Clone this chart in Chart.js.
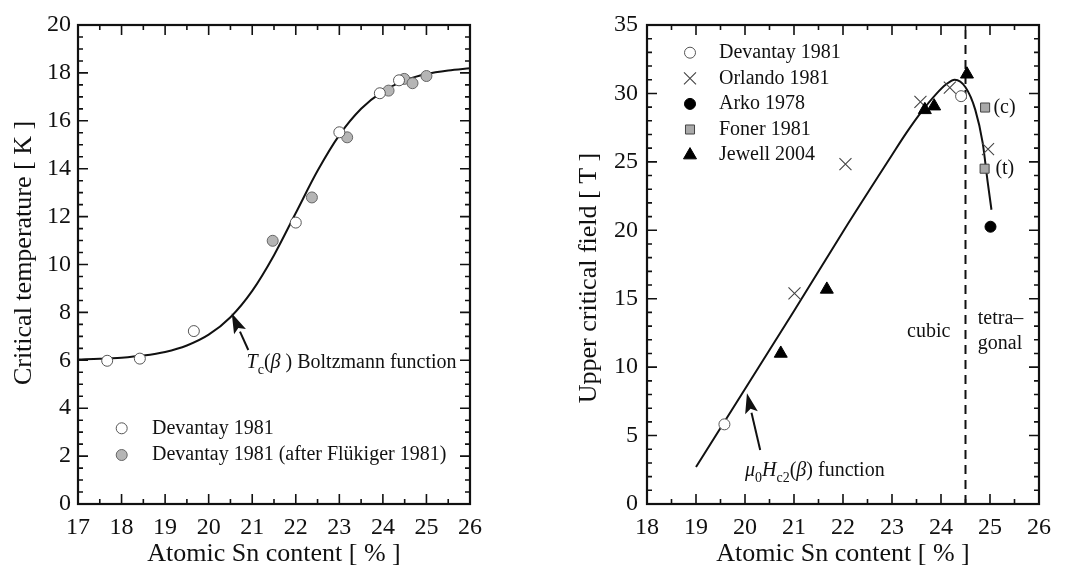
<!DOCTYPE html>
<html>
<head>
<meta charset="utf-8">
<script src="https://cdn.jsdelivr.net/npm/chart.js@4.4.1/dist/chart.umd.min.js"></script>
<style>
  body { margin: 0; background: #fff; }
  #wrap { position: relative; width: 1069px; height: 567px; }
  canvas { position: absolute; top: 0; }
  #tcChart { left: 0; }
  #hcChart { left: 535px; }
</style>
</head>
<body>
<div id="wrap">
  <canvas id="tcChart" width="535" height="567"></canvas>
  <canvas id="hcChart" width="534" height="567"></canvas>
</div>
<script>
// critical temperature vs Sn content
const tcOpenX = [17.67, 18.42, 19.66, 22.0, 23.0, 23.93, 24.37];
const tcOpenY = [5.98, 6.07, 7.22, 11.75, 15.52, 17.15, 17.69];
const tcGrayX = [21.47, 22.37, 23.18, 24.13, 24.49, 24.68, 25.0];
const tcGrayY = [10.99, 12.8, 15.31, 17.26, 17.75, 17.57, 17.87];
const tcFitX = [17, 17.5, 18, 18.5, 19, 19.5, 20, 20.5, 21, 21.5, 22, 22.5, 23, 23.5, 24, 24.5, 25, 25.5, 26];
const tcFitY = [6.03, 6.06, 6.11, 6.2, 6.35, 6.62, 7.07, 7.8, 8.9, 10.39, 12.15, 13.91, 15.4, 16.5, 17.23, 17.68, 17.95, 18.1, 18.19];

// upper critical field vs Sn content
const hcDevX = [19.58, 24.41];
const hcDevY = [5.82, 29.8];
const hcOrlX = [21.01, 22.05, 23.58, 24.18, 24.96];
const hcOrlY = [15.39, 24.84, 29.39, 30.43, 25.93];
const hcArkoX = [25.01];
const hcArkoY = [20.26];
const hcFonerX = [24.9, 24.89];
const hcFonerY = [28.97, 24.5];
const hcJewX = [20.73, 21.67, 23.67, 23.86, 24.53];
const hcJewY = [11.0, 15.68, 28.8, 29.07, 31.4];
const hcFitX = [19, 20, 21, 22, 23, 23.3, 23.6, 23.9, 24.1, 24.28, 24.5, 24.7, 24.85, 24.95, 25.03];
const hcFitY = [2.7, 8.4, 14.1, 19.9, 25.5, 27.15, 28.65, 29.95, 30.65, 31.0, 30.45, 28.8, 26.4, 23.6, 21.5];
const phaseX = [24.5, 24.5];
const phaseY = [0, 35];

const serif = '"Liberation Serif", "Times New Roman", serif';
const ink = '#111';

const pts = (xs, ys) => xs.map((x, i) => ({ x: x, y: ys[i] }));

function axis(min, max, step, title, pad, fit) {
  return {
    type: 'linear', min: min, max: max,
    grid: { display: false, drawTicks: false },
    border: { display: false },
    ticks: { stepSize: step, autoSkip: false, maxRotation: 0, color: ink, padding: pad,
             font: { family: serif, size: 24 } },
    title: { display: !!title, text: title, color: ink, padding: 0,
             font: { family: serif, size: 26, lineHeight: 1 } },
    afterFit: fit
  };
}

// box frame with inward major/minor ticks on all four sides
function frameTicks(xMinor, yMinor) {
  return {
    id: 'frameTicks',
    afterDatasetsDraw(chart) {
      const { ctx, chartArea: a, scales } = chart;
      ctx.save();
      ctx.strokeStyle = ink;
      ctx.lineWidth = 1.6;
      const sets = [[scales.x, xMinor], [scales.y, yMinor]];
      sets.forEach(([s, minor]) => {
        const major = s.options.ticks.stepSize;
        const n = Math.round((s.max - s.min) / minor);
        for (let i = 0; i <= n; i++) {
          const v = s.min + i * minor;
          const isMajor = Math.abs(v / major - Math.round(v / major)) < 1e-6;
          const len = isMajor ? 10 : 5;
          const p = s.getPixelForValue(v);
          ctx.beginPath();
          if (s.isHorizontal()) {
            ctx.moveTo(p, a.bottom); ctx.lineTo(p, a.bottom - len);
            ctx.moveTo(p, a.top); ctx.lineTo(p, a.top + len);
          } else {
            ctx.moveTo(a.left, p); ctx.lineTo(a.left + len, p);
            ctx.moveTo(a.right, p); ctx.lineTo(a.right - len, p);
          }
          ctx.stroke();
        }
      });
      ctx.lineWidth = 2.2;
      ctx.strokeRect(a.left, a.top, a.right - a.left, a.bottom - a.top);
      ctx.restore();
    }
  };
}

// rotated y-axis title, centred at (x, y) in canvas pixels
function yTitle(text, x, y) {
  return {
    id: 'yTitle',
    afterDraw(chart) {
      const ctx = chart.ctx;
      ctx.save();
      ctx.translate(x, y);
      ctx.rotate(-Math.PI / 2);
      ctx.fillStyle = ink;
      ctx.font = '26px ' + serif;
      ctx.textAlign = 'center';
      ctx.textBaseline = 'middle';
      ctx.fillText(text, 0, 0);
      ctx.restore();
    }
  };
}

function keyBox(idxs, dx, tx, dy0, step) {
  return {
    id: 'keyBox',
    afterDatasetsDraw(chart) {
      const { ctx, chartArea: a } = chart;
      ctx.save();
      idxs.forEach((di, i) => {
        const ds = chart.data.datasets[di];
        const y = a.top + dy0 + i * step;
        ctx.fillStyle = ds.pointBackgroundColor;
        ctx.strokeStyle = ds.pointBorderColor;
        ctx.lineWidth = ds.pointBorderWidth;
        Chart.helpers.drawPoint(ctx, { pointStyle: ds.pointStyle, radius: ds.pointRadius,
          rotation: 0, borderWidth: ds.pointBorderWidth }, a.left + dx, y);
        ctx.fillStyle = ink;
        ctx.font = '20px ' + serif;
        ctx.textAlign = 'left';
        ctx.textBaseline = 'middle';
        ctx.fillText(ds.label, a.left + tx, y);
      });
      ctx.restore();
    }
  };
}

function richText(ctx, x, y, parts, size) {
  ctx.textAlign = 'left';
  ctx.textBaseline = 'middle';
  parts.forEach(p => {
    const s = p.sub ? Math.round(size * 0.7) : size;
    ctx.font = (p.it ? 'italic ' : '') + s + 'px ' + serif;
    ctx.fillText(p.t, x, y + (p.sub ? size * 0.38 : 0));
    x += ctx.measureText(p.t).width;
  });
}

function arrow(ctx, x0, y0, x1, y1) {
  const ang = Math.atan2(y1 - y0, x1 - x0);
  const head = 20, half = 6.5;
  const bx = x1 - head * Math.cos(ang), by = y1 - head * Math.sin(ang);
  ctx.lineWidth = 2;
  ctx.beginPath(); ctx.moveTo(x0, y0); ctx.lineTo(bx, by); ctx.stroke();
  ctx.beginPath();
  ctx.moveTo(x1, y1);
  ctx.lineTo(bx + half * Math.sin(ang), by - half * Math.cos(ang));
  ctx.lineTo(x1 - head * 0.8 * Math.cos(ang), y1 - head * 0.8 * Math.sin(ang));
  ctx.lineTo(bx - half * Math.sin(ang), by + half * Math.cos(ang));
  ctx.closePath(); ctx.fill();
}

// labels and arrows placed in data units
function notes(draw) {
  return {
    id: 'notes',
    afterDatasetsDraw(chart) {
      const { ctx, scales: { x, y } } = chart;
      const px = v => x.getPixelForValue(v), py = v => y.getPixelForValue(v);
      ctx.save();
      ctx.fillStyle = ink;
      ctx.strokeStyle = ink;
      draw(ctx, px, py);
      ctx.restore();
    }
  };
}

const common = {
  responsive: false,
  animation: false,
  devicePixelRatio: 1,
  events: [],
  plugins: { legend: { display: false }, tooltip: { enabled: false } }
};

new Chart(document.getElementById('tcChart'), {
  type: 'scatter',
  data: {
    datasets: [
      { label: 'Devantay 1981', data: pts(tcOpenX, tcOpenY), pointStyle: 'circle', pointRadius: 5.5,
        pointBackgroundColor: '#fff', pointBorderColor: '#555', pointBorderWidth: 1, order: 0 },
      { label: 'Devantay 1981 (after Flükiger 1981)', data: pts(tcGrayX, tcGrayY), pointStyle: 'circle',
        pointRadius: 5.5, pointBackgroundColor: '#b5b5b5', pointBorderColor: '#666', pointBorderWidth: 1, order: 1 },
      { label: 'Boltzmann fit', data: pts(tcFitX, tcFitY), showLine: true, pointRadius: 0,
        borderColor: ink, borderWidth: 2, cubicInterpolationMode: 'monotone', order: 3 }
    ]
  },
  options: Object.assign({}, common, {
    layout: { padding: { left: 0, right: 65, top: 25, bottom: 0 } },
    scales: {
      x: axis(17, 26, 1, 'Atomic Sn content [ % ]', 9, s => { s.height = 63; }),
      y: axis(0, 20, 2, '', 7, s => { s.width = 78; })
    }
  }),
  plugins: [
    frameTicks(0.5, 0.5),
    yTitle('Critical temperature [ K ]', 24, 253),
    keyBox([0, 1], 43.7, 74, 403.3, 26.7),
    notes((ctx, px, py) => {
      arrow(ctx, px(20.91), py(6.43), px(20.53), py(7.96));
      richText(ctx, px(20.87), py(5.9), [
        { t: 'T', it: true }, { t: 'c', sub: true }, { t: '(' }, { t: 'β', it: true },
        { t: ' ) Boltzmann function' }
      ], 20);
    })
  ]
});

new Chart(document.getElementById('hcChart'), {
  type: 'scatter',
  data: {
    datasets: [
      { label: 'Devantay 1981', data: pts(hcDevX, hcDevY), pointStyle: 'circle', pointRadius: 5.5,
        pointBackgroundColor: '#fff', pointBorderColor: '#555', pointBorderWidth: 1, order: 0 },
      { label: 'Orlando 1981', data: pts(hcOrlX, hcOrlY), pointStyle: 'crossRot', pointRadius: 8.5,
        pointBackgroundColor: '#fff', pointBorderColor: '#444', pointBorderWidth: 1.1, order: 1 },
      { label: 'Arko 1978', data: pts(hcArkoX, hcArkoY), pointStyle: 'circle', pointRadius: 5.5,
        pointBackgroundColor: '#000', pointBorderColor: '#000', pointBorderWidth: 1, order: 0 },
      { label: 'Foner 1981', data: pts(hcFonerX, hcFonerY), pointStyle: 'rect', pointRadius: 6.4,
        pointBackgroundColor: '#a9a9a9', pointBorderColor: '#444', pointBorderWidth: 1, order: 0 },
      { label: 'Jewell 2004', data: pts(hcJewX, hcJewY), pointStyle: 'triangle', pointRadius: 7.5,
        pointBackgroundColor: '#000', pointBorderColor: '#000', pointBorderWidth: 1, order: 0 },
      { label: 'Hc2 fit', data: pts(hcFitX, hcFitY), showLine: true, pointRadius: 0,
        borderColor: ink, borderWidth: 2, cubicInterpolationMode: 'monotone', order: 3 },
      { label: 'phase boundary', data: pts(phaseX, phaseY), showLine: true, pointRadius: 0,
        borderColor: ink, borderWidth: 2, borderDash: [9, 6], order: 4 }
    ]
  },
  options: Object.assign({}, common, {
    layout: { padding: { left: 30, right: 30, top: 25, bottom: 0 } },
    scales: {
      x: axis(18, 26, 1, 'Atomic Sn content [ % ]', 9, s => { s.height = 63; }),
      y: axis(0, 35, 5, '', 9, s => { s.width = 82; })
    }
  }),
  plugins: [
    frameTicks(0.5, 1),
    yTitle('Upper critical field [ T ]', 54, 278),
    keyBox([0, 1, 2, 3, 4], 43, 72, 27.7, 25.6),
    notes((ctx, px, py) => {
      arrow(ctx, px(20.31), py(3.94), px(20.04), py(8.09));
      richText(ctx, px(20.0), py(2.43), [
        { t: 'μ', it: true }, { t: '0', sub: true }, { t: 'H', it: true }, { t: 'c2', sub: true },
        { t: '(' }, { t: 'β', it: true }, { t: ') function' }
      ], 20);
      ctx.font = '20px ' + serif;
      ctx.textBaseline = 'middle';
      ctx.textAlign = 'center';
      ctx.fillText('cubic', px(23.75), py(12.6));
      ctx.textAlign = 'left';
      ctx.fillText('tetra–', px(24.75), py(13.5));
      ctx.fillText('gonal', px(24.75), py(11.7));
      ctx.fillText('(c)', px(25.07), py(28.97));
      ctx.fillText('(t)', px(25.11), py(24.5));
    })
  ]
});
</script>
</body>
</html>
